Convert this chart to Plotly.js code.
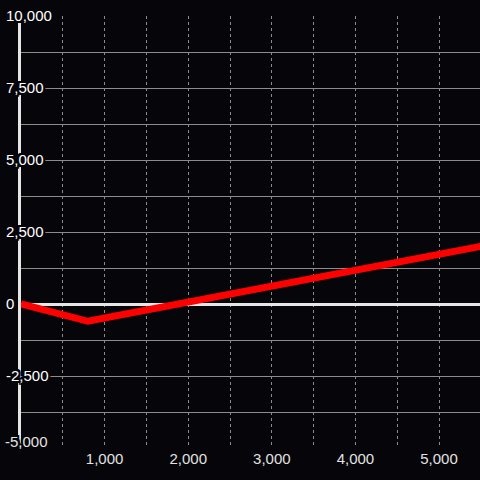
<!DOCTYPE html>
<html><head><meta charset="utf-8">
<script src="https://cdn.plot.ly/plotly-3.0.1.min.js"></script>
<style>html,body{margin:0;padding:0;background:#060509;}</style>
</head><body><div id="chart" style="width:480px;height:480px;"></div>
<script>
var xValues = [0, 800, 5500];
var yValues = [0, -600, 2000];
var xTickVals = [1000, 2000, 3000, 4000, 5000];
var xTickText = ['1,000', '2,000', '3,000', '4,000', '5,000'];
var yTickVals = [-5000, -2500, 0, 2500, 5000, 7500, 10000];
var yTickText = ['-5,000', '-2,500', '0', '2,500', '5,000', '7,500', '10,000'];
var xRange = [0, 5490];
var yRange = [-5000, 10000];

var bg = '#060509';
var halo = [[2,0],[-2,0],[0,2],[0,-2],[2,2],[-2,2],[2,-2],[-2,-2],[1,2],[2,1],[-1,2],[-2,1],[1,-2],[2,-1],[-1,-2],[-2,-1]]
  .map(function (o) { return o[0] + 'px ' + o[1] + 'px 0 ' + bg; }).join(', ');

// the bottom label sits a little above its gridline, as in the reference
var axisText = yTickText.map(function (t, i) { return i === 0 ? '' : t; });

var trace = {x: xValues, y: yValues, type: 'scatter', mode: 'lines',
  line: {color: '#ff0000', width: 7}, hoverinfo: 'skip'};

var layout = {
  width: 480, height: 480,
  paper_bgcolor: bg, plot_bgcolor: bg,
  margin: {l: 21, r: 0, t: 16, b: 32},
  showlegend: false,
  font: {family: 'Liberation Sans, Arial, sans-serif', size: 15, color: '#e2e2e2'},
  xaxis: {range: xRange, tickmode: 'array', tickvals: xTickVals, ticktext: xTickText,
    showgrid: true, gridcolor: '#8c8c8c', griddash: 'dot', gridwidth: 1,
    minor: {dtick: 500, tick0: 0, showgrid: true, gridcolor: '#8c8c8c', griddash: 'dot', gridwidth: 1},
    zeroline: false, showline: false, ticks: '', fixedrange: true},
  yaxis: {range: yRange, tickmode: 'array', tickvals: yTickVals, ticktext: axisText,
    ticklabelposition: 'inside', ticklabeloverflow: 'allow', ticklabelstandoff: -15,
    tickfont: {shadow: halo},
    showgrid: true, gridcolor: '#8c8c8c', gridwidth: 1,
    minor: {dtick: 1250, tick0: 0, showgrid: true, gridcolor: '#8c8c8c', gridwidth: 1},
    zeroline: true, zerolinecolor: '#e6e6e6', zerolinewidth: 3,
    showline: true, linecolor: '#e6e6e6', linewidth: 3,
    ticks: '', fixedrange: true},
  annotations: [{
    text: yTickText[0], xref: 'paper', x: 0, xanchor: 'left', xshift: -18,
    yref: 'y', y: yTickVals[0], yanchor: 'middle', yshift: 6.5,
    showarrow: false, font: {family: 'Liberation Sans, Arial, sans-serif', size: 15, color: '#e2e2e2', shadow: halo}
  }]
};
Plotly.newPlot('chart', [trace], layout, {displayModeBar: false, staticPlot: true});
</script></body></html>
